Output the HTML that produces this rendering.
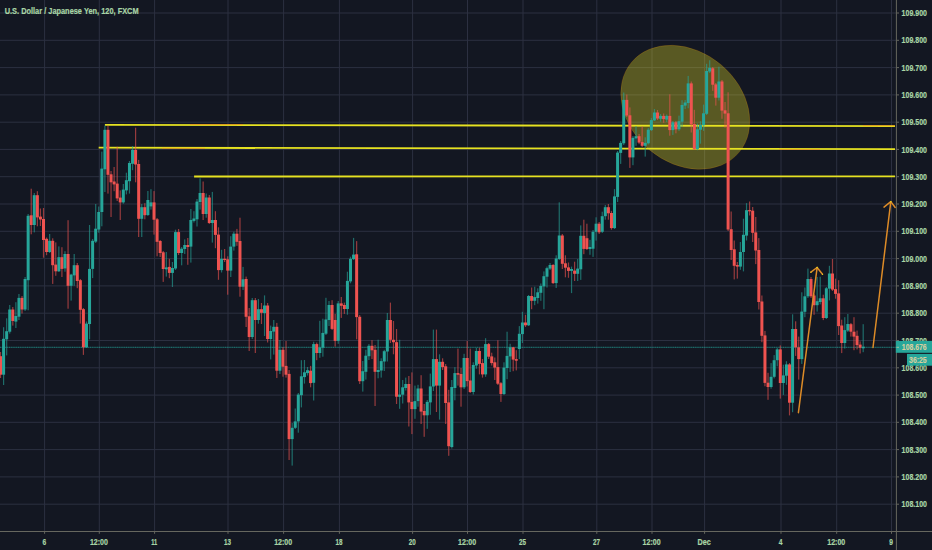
<!DOCTYPE html>
<html><head><meta charset="utf-8"><title>USDJPY</title>
<style>html,body{margin:0;padding:0;background:#131722;overflow:hidden}body{width:932px;height:550px;font-family:"Liberation Sans",sans-serif}</style>
</head><body>
<svg width="932" height="550" viewBox="0 0 932 550" style="display:block;font-family:'Liberation Sans',sans-serif">
<rect width="932" height="550" fill="#131722"/>
<g stroke="#2c3041" stroke-width="1">
<line x1="0" y1="13.0" x2="896.4" y2="13.0"/>
<line x1="0" y1="40.3" x2="896.4" y2="40.3"/>
<line x1="0" y1="67.6" x2="896.4" y2="67.6"/>
<line x1="0" y1="94.9" x2="896.4" y2="94.9"/>
<line x1="0" y1="122.2" x2="896.4" y2="122.2"/>
<line x1="0" y1="149.4" x2="896.4" y2="149.4"/>
<line x1="0" y1="176.7" x2="896.4" y2="176.7"/>
<line x1="0" y1="204.0" x2="896.4" y2="204.0"/>
<line x1="0" y1="231.3" x2="896.4" y2="231.3"/>
<line x1="0" y1="258.6" x2="896.4" y2="258.6"/>
<line x1="0" y1="285.9" x2="896.4" y2="285.9"/>
<line x1="0" y1="313.2" x2="896.4" y2="313.2"/>
<line x1="0" y1="340.5" x2="896.4" y2="340.5"/>
<line x1="0" y1="367.8" x2="896.4" y2="367.8"/>
<line x1="0" y1="395.1" x2="896.4" y2="395.1"/>
<line x1="0" y1="422.3" x2="896.4" y2="422.3"/>
<line x1="0" y1="449.6" x2="896.4" y2="449.6"/>
<line x1="0" y1="476.9" x2="896.4" y2="476.9"/>
<line x1="0" y1="504.2" x2="896.4" y2="504.2"/>
<line x1="44.6" y1="0" x2="44.6" y2="531.5"/>
<line x1="99.3" y1="0" x2="99.3" y2="531.5"/>
<line x1="154.6" y1="0" x2="154.6" y2="531.5"/>
<line x1="228.0" y1="0" x2="228.0" y2="531.5"/>
<line x1="283.6" y1="0" x2="283.6" y2="531.5"/>
<line x1="339.4" y1="0" x2="339.4" y2="531.5"/>
<line x1="412.6" y1="0" x2="412.6" y2="531.5"/>
<line x1="467.5" y1="0" x2="467.5" y2="531.5"/>
<line x1="523.0" y1="0" x2="523.0" y2="531.5"/>
<line x1="596.8" y1="0" x2="596.8" y2="531.5"/>
<line x1="652.0" y1="0" x2="652.0" y2="531.5"/>
<line x1="704.6" y1="0" x2="704.6" y2="531.5"/>
<line x1="781.0" y1="0" x2="781.0" y2="531.5"/>
<line x1="836.7" y1="0" x2="836.7" y2="531.5"/>
<line x1="891.5" y1="0" x2="891.5" y2="531.5"/>
</g>
<g transform="translate(685.3 107.3) rotate(40)"><ellipse rx="70.1" ry="55.6" fill="rgba(235,225,40,0.33)" stroke="rgba(255,152,0,0.25)" stroke-width="0.7"/></g>
<g stroke="#e6e221" stroke-width="1.8" stroke-linecap="butt">
<line x1="104.9" y1="124.9" x2="895" y2="126.1"/>
<line x1="98.7" y1="147.7" x2="895" y2="149.1"/>
<line x1="194.1" y1="176.5" x2="895" y2="176.3"/>
</g>
<g stroke="#f08c1e" stroke-width="0.9" opacity="0.7">
<line x1="190" y1="124.5" x2="243" y2="124.6"/><line x1="863" y1="125.6" x2="895" y2="125.7"/>
<line x1="162" y1="148.3" x2="205" y2="148.4"/><line x1="779" y1="149.4" x2="820" y2="149.5"/>
</g>
<line x1="0" y1="347.3" x2="896.4" y2="347.3" stroke="#26a69a" stroke-width="1" opacity="0.38"/>
<line x1="0" y1="347.3" x2="896.4" y2="347.3" stroke="#26a69a" stroke-width="1" stroke-dasharray="1 1.25" opacity="0.5"/>
<g opacity="0.6"><rect x="-0.08" y="352.0" width="1.2" height="26.0" fill="#ef5350"/><rect x="2.99" y="327.2" width="1.2" height="57.8" fill="#26a69a"/><rect x="6.06" y="318.3" width="1.2" height="37.1" fill="#26a69a"/><rect x="9.13" y="305.0" width="1.2" height="28.6" fill="#26a69a"/><rect x="12.20" y="307.0" width="1.2" height="18.6" fill="#ef5350"/><rect x="15.27" y="302.2" width="1.2" height="25.8" fill="#26a69a"/><rect x="18.34" y="294.0" width="1.2" height="26.0" fill="#26a69a"/><rect x="21.41" y="296.0" width="1.2" height="17.5" fill="#ef5350"/><rect x="24.48" y="277.0" width="1.2" height="34.0" fill="#26a69a"/><rect x="27.55" y="214.0" width="1.2" height="96.3" fill="#26a69a"/><rect x="30.62" y="188.7" width="1.2" height="45.6" fill="#ef5350"/><rect x="33.69" y="193.0" width="1.2" height="39.4" fill="#26a69a"/><rect x="36.76" y="191.2" width="1.2" height="35.1" fill="#ef5350"/><rect x="39.83" y="208.5" width="1.2" height="17.5" fill="#ef5350"/><rect x="42.90" y="208.0" width="1.2" height="49.7" fill="#ef5350"/><rect x="45.97" y="237.5" width="1.2" height="17.7" fill="#ef5350"/><rect x="49.04" y="234.0" width="1.2" height="19.0" fill="#26a69a"/><rect x="52.11" y="238.3" width="1.2" height="45.6" fill="#ef5350"/><rect x="55.18" y="242.4" width="1.2" height="33.4" fill="#ef5350"/><rect x="58.25" y="246.4" width="1.2" height="25.6" fill="#26a69a"/><rect x="61.32" y="247.2" width="1.2" height="29.8" fill="#ef5350"/><rect x="64.39" y="251.2" width="1.2" height="20.5" fill="#26a69a"/><rect x="67.46" y="220.2" width="1.2" height="88.5" fill="#ef5350"/><rect x="70.53" y="273.8" width="1.2" height="26.8" fill="#26a69a"/><rect x="73.60" y="254.0" width="1.2" height="31.8" fill="#26a69a"/><rect x="76.67" y="263.0" width="1.2" height="25.2" fill="#ef5350"/><rect x="79.74" y="279.0" width="1.2" height="44.6" fill="#ef5350"/><rect x="82.81" y="308.0" width="1.2" height="46.9" fill="#ef5350"/><rect x="85.88" y="321.5" width="1.2" height="26.5" fill="#26a69a"/><rect x="88.95" y="225.0" width="1.2" height="114.3" fill="#26a69a"/><rect x="92.02" y="239.0" width="1.2" height="39.1" fill="#26a69a"/><rect x="95.09" y="204.0" width="1.2" height="39.0" fill="#26a69a"/><rect x="98.16" y="206.5" width="1.2" height="26.2" fill="#26a69a"/><rect x="101.23" y="151.6" width="1.2" height="74.7" fill="#26a69a"/><rect x="104.30" y="125.7" width="1.2" height="66.3" fill="#26a69a"/><rect x="107.37" y="125.7" width="1.2" height="67.9" fill="#ef5350"/><rect x="110.44" y="171.0" width="1.2" height="46.0" fill="#ef5350"/><rect x="113.51" y="167.0" width="1.2" height="24.2" fill="#ef5350"/><rect x="116.58" y="146.7" width="1.2" height="54.3" fill="#ef5350"/><rect x="119.65" y="190.4" width="1.2" height="29.6" fill="#ef5350"/><rect x="122.72" y="184.0" width="1.2" height="19.7" fill="#26a69a"/><rect x="125.79" y="172.7" width="1.2" height="21.7" fill="#26a69a"/><rect x="128.86" y="161.0" width="1.2" height="32.6" fill="#26a69a"/><rect x="131.93" y="146.0" width="1.2" height="24.2" fill="#26a69a"/><rect x="135.00" y="127.7" width="1.2" height="54.6" fill="#ef5350"/><rect x="138.07" y="159.9" width="1.2" height="77.1" fill="#ef5350"/><rect x="141.14" y="204.0" width="1.2" height="33.0" fill="#26a69a"/><rect x="144.21" y="203.2" width="1.2" height="16.1" fill="#ef5350"/><rect x="147.28" y="191.0" width="1.2" height="25.0" fill="#26a69a"/><rect x="150.35" y="189.2" width="1.2" height="20.4" fill="#26a69a"/><rect x="153.42" y="191.1" width="1.2" height="43.5" fill="#ef5350"/><rect x="156.49" y="218.0" width="1.2" height="38.3" fill="#ef5350"/><rect x="159.56" y="240.0" width="1.2" height="17.0" fill="#ef5350"/><rect x="162.63" y="251.0" width="1.2" height="30.9" fill="#ef5350"/><rect x="165.70" y="252.0" width="1.2" height="24.6" fill="#26a69a"/><rect x="168.77" y="258.8" width="1.2" height="19.4" fill="#ef5350"/><rect x="171.84" y="262.0" width="1.2" height="25.0" fill="#26a69a"/><rect x="174.91" y="229.7" width="1.2" height="40.3" fill="#26a69a"/><rect x="177.98" y="229.0" width="1.2" height="26.0" fill="#ef5350"/><rect x="181.05" y="247.0" width="1.2" height="18.3" fill="#26a69a"/><rect x="184.12" y="239.4" width="1.2" height="14.6" fill="#26a69a"/><rect x="187.19" y="238.0" width="1.2" height="26.8" fill="#ef5350"/><rect x="190.26" y="209.0" width="1.2" height="53.6" fill="#26a69a"/><rect x="193.33" y="211.2" width="1.2" height="11.3" fill="#26a69a"/><rect x="196.40" y="199.0" width="1.2" height="27.5" fill="#26a69a"/><rect x="199.47" y="178.3" width="1.2" height="31.3" fill="#26a69a"/><rect x="202.54" y="181.5" width="1.2" height="38.5" fill="#ef5350"/><rect x="205.61" y="193.5" width="1.2" height="24.2" fill="#26a69a"/><rect x="208.68" y="195.0" width="1.2" height="29.0" fill="#ef5350"/><rect x="211.75" y="191.9" width="1.2" height="50.7" fill="#26a69a"/><rect x="214.82" y="211.2" width="1.2" height="37.0" fill="#ef5350"/><rect x="217.89" y="227.3" width="1.2" height="52.5" fill="#ef5350"/><rect x="220.96" y="249.8" width="1.2" height="22.7" fill="#26a69a"/><rect x="224.03" y="249.0" width="1.2" height="13.0" fill="#ef5350"/><rect x="227.10" y="256.3" width="1.2" height="38.4" fill="#ef5350"/><rect x="230.17" y="236.2" width="1.2" height="40.8" fill="#26a69a"/><rect x="233.24" y="231.7" width="1.2" height="18.9" fill="#26a69a"/><rect x="236.31" y="228.9" width="1.2" height="16.9" fill="#ef5350"/><rect x="239.38" y="217.7" width="1.2" height="79.0" fill="#ef5350"/><rect x="242.45" y="266.9" width="1.2" height="23.1" fill="#26a69a"/><rect x="245.52" y="276.6" width="1.2" height="50.4" fill="#ef5350"/><rect x="248.59" y="308.0" width="1.2" height="43.0" fill="#ef5350"/><rect x="251.66" y="298.0" width="1.2" height="41.0" fill="#26a69a"/><rect x="254.73" y="298.0" width="1.2" height="55.0" fill="#ef5350"/><rect x="257.80" y="299.0" width="1.2" height="24.7" fill="#26a69a"/><rect x="260.87" y="303.0" width="1.2" height="21.0" fill="#ef5350"/><rect x="263.94" y="295.4" width="1.2" height="40.6" fill="#26a69a"/><rect x="267.01" y="303.0" width="1.2" height="39.5" fill="#ef5350"/><rect x="270.08" y="325.6" width="1.2" height="33.8" fill="#26a69a"/><rect x="273.15" y="320.0" width="1.2" height="34.6" fill="#26a69a"/><rect x="276.22" y="322.9" width="1.2" height="55.1" fill="#ef5350"/><rect x="279.29" y="340.0" width="1.2" height="34.0" fill="#26a69a"/><rect x="282.36" y="347.0" width="1.2" height="29.7" fill="#ef5350"/><rect x="285.43" y="341.0" width="1.2" height="36.6" fill="#ef5350"/><rect x="288.50" y="370.0" width="1.2" height="90.0" fill="#ef5350"/><rect x="291.57" y="423.0" width="1.2" height="42.6" fill="#26a69a"/><rect x="294.64" y="408.5" width="1.2" height="20.5" fill="#26a69a"/><rect x="297.71" y="393.0" width="1.2" height="39.7" fill="#26a69a"/><rect x="300.78" y="360.2" width="1.2" height="47.2" fill="#26a69a"/><rect x="303.85" y="360.0" width="1.2" height="23.6" fill="#26a69a"/><rect x="306.92" y="367.0" width="1.2" height="8.5" fill="#26a69a"/><rect x="309.99" y="365.9" width="1.2" height="21.4" fill="#ef5350"/><rect x="313.06" y="341.7" width="1.2" height="58.8" fill="#26a69a"/><rect x="316.13" y="342.5" width="1.2" height="17.7" fill="#ef5350"/><rect x="319.20" y="320.8" width="1.2" height="37.0" fill="#26a69a"/><rect x="322.27" y="318.7" width="1.2" height="38.0" fill="#26a69a"/><rect x="325.34" y="297.8" width="1.2" height="37.2" fill="#26a69a"/><rect x="328.41" y="301.0" width="1.2" height="25.0" fill="#26a69a"/><rect x="331.48" y="300.2" width="1.2" height="29.8" fill="#ef5350"/><rect x="334.55" y="313.9" width="1.2" height="32.7" fill="#ef5350"/><rect x="337.62" y="301.0" width="1.2" height="42.8" fill="#26a69a"/><rect x="340.69" y="297.0" width="1.2" height="20.9" fill="#ef5350"/><rect x="343.76" y="302.6" width="1.2" height="11.3" fill="#ef5350"/><rect x="346.83" y="271.7" width="1.2" height="43.0" fill="#26a69a"/><rect x="349.90" y="256.7" width="1.2" height="26.6" fill="#26a69a"/><rect x="352.97" y="237.9" width="1.2" height="22.1" fill="#26a69a"/><rect x="356.04" y="241.1" width="1.2" height="98.2" fill="#ef5350"/><rect x="359.11" y="315.0" width="1.2" height="69.0" fill="#ef5350"/><rect x="362.18" y="361.0" width="1.2" height="30.6" fill="#26a69a"/><rect x="365.25" y="349.8" width="1.2" height="29.8" fill="#26a69a"/><rect x="368.32" y="344.1" width="1.2" height="15.9" fill="#26a69a"/><rect x="371.39" y="340.1" width="1.2" height="18.9" fill="#ef5350"/><rect x="374.46" y="345.0" width="1.2" height="61.0" fill="#ef5350"/><rect x="377.53" y="339.7" width="1.2" height="38.6" fill="#26a69a"/><rect x="380.60" y="358.3" width="1.2" height="19.3" fill="#26a69a"/><rect x="383.67" y="349.8" width="1.2" height="21.2" fill="#26a69a"/><rect x="386.74" y="313.0" width="1.2" height="48.5" fill="#26a69a"/><rect x="389.81" y="302.6" width="1.2" height="40.4" fill="#ef5350"/><rect x="392.88" y="321.0" width="1.2" height="33.3" fill="#ef5350"/><rect x="395.95" y="329.0" width="1.2" height="75.0" fill="#ef5350"/><rect x="399.02" y="339.8" width="1.2" height="69.0" fill="#26a69a"/><rect x="402.09" y="380.0" width="1.2" height="23.5" fill="#26a69a"/><rect x="405.16" y="377.6" width="1.2" height="12.9" fill="#26a69a"/><rect x="408.23" y="376.0" width="1.2" height="50.5" fill="#ef5350"/><rect x="411.30" y="372.4" width="1.2" height="61.7" fill="#ef5350"/><rect x="414.37" y="385.6" width="1.2" height="33.2" fill="#26a69a"/><rect x="417.44" y="384.8" width="1.2" height="21.9" fill="#26a69a"/><rect x="420.51" y="375.2" width="1.2" height="48.8" fill="#ef5350"/><rect x="423.58" y="404.0" width="1.2" height="32.8" fill="#ef5350"/><rect x="426.65" y="400.0" width="1.2" height="28.8" fill="#26a69a"/><rect x="429.72" y="373.6" width="1.2" height="41.2" fill="#26a69a"/><rect x="432.79" y="329.6" width="1.2" height="61.4" fill="#26a69a"/><rect x="435.86" y="329.6" width="1.2" height="82.4" fill="#ef5350"/><rect x="438.93" y="354.3" width="1.2" height="65.3" fill="#26a69a"/><rect x="442.00" y="358.3" width="1.2" height="11.7" fill="#ef5350"/><rect x="445.07" y="364.0" width="1.2" height="60.0" fill="#ef5350"/><rect x="448.14" y="389.8" width="1.2" height="66.0" fill="#ef5350"/><rect x="451.21" y="380.0" width="1.2" height="68.5" fill="#26a69a"/><rect x="454.28" y="367.1" width="1.2" height="33.2" fill="#26a69a"/><rect x="457.35" y="348.6" width="1.2" height="37.0" fill="#ef5350"/><rect x="460.42" y="368.0" width="1.2" height="38.7" fill="#ef5350"/><rect x="463.49" y="353.8" width="1.2" height="35.2" fill="#26a69a"/><rect x="466.56" y="340.9" width="1.2" height="45.6" fill="#ef5350"/><rect x="469.63" y="348.6" width="1.2" height="44.4" fill="#ef5350"/><rect x="472.70" y="362.3" width="1.2" height="32.2" fill="#26a69a"/><rect x="475.77" y="347.8" width="1.2" height="20.9" fill="#26a69a"/><rect x="478.84" y="347.8" width="1.2" height="26.6" fill="#ef5350"/><rect x="481.91" y="359.0" width="1.2" height="18.6" fill="#ef5350"/><rect x="484.98" y="338.2" width="1.2" height="38.6" fill="#26a69a"/><rect x="488.05" y="343.0" width="1.2" height="16.0" fill="#ef5350"/><rect x="491.12" y="352.7" width="1.2" height="12.8" fill="#ef5350"/><rect x="494.19" y="357.5" width="1.2" height="22.5" fill="#ef5350"/><rect x="497.26" y="340.3" width="1.2" height="44.7" fill="#ef5350"/><rect x="500.33" y="382.0" width="1.2" height="19.9" fill="#ef5350"/><rect x="503.40" y="362.3" width="1.2" height="32.7" fill="#26a69a"/><rect x="506.47" y="331.7" width="1.2" height="47.5" fill="#26a69a"/><rect x="509.54" y="343.8" width="1.2" height="28.2" fill="#26a69a"/><rect x="512.61" y="347.0" width="1.2" height="24.2" fill="#ef5350"/><rect x="515.68" y="350.2" width="1.2" height="20.2" fill="#ef5350"/><rect x="518.75" y="326.1" width="1.2" height="33.0" fill="#26a69a"/><rect x="521.82" y="311.8" width="1.2" height="31.2" fill="#26a69a"/><rect x="524.89" y="314.8" width="1.2" height="12.2" fill="#ef5350"/><rect x="527.96" y="295.0" width="1.2" height="31.0" fill="#26a69a"/><rect x="531.03" y="287.5" width="1.2" height="21.7" fill="#ef5350"/><rect x="534.10" y="286.7" width="1.2" height="18.5" fill="#26a69a"/><rect x="537.17" y="288.3" width="1.2" height="15.3" fill="#26a69a"/><rect x="540.24" y="283.5" width="1.2" height="17.3" fill="#26a69a"/><rect x="543.31" y="271.4" width="1.2" height="37.8" fill="#26a69a"/><rect x="546.38" y="266.6" width="1.2" height="20.9" fill="#26a69a"/><rect x="549.45" y="263.0" width="1.2" height="7.0" fill="#26a69a"/><rect x="552.52" y="264.0" width="1.2" height="20.0" fill="#ef5350"/><rect x="555.59" y="255.3" width="1.2" height="32.7" fill="#26a69a"/><rect x="558.66" y="202.3" width="1.2" height="57.7" fill="#26a69a"/><rect x="561.73" y="234.0" width="1.2" height="35.0" fill="#ef5350"/><rect x="564.80" y="255.3" width="1.2" height="22.0" fill="#ef5350"/><rect x="567.87" y="262.5" width="1.2" height="15.3" fill="#ef5350"/><rect x="570.94" y="266.6" width="1.2" height="26.5" fill="#26a69a"/><rect x="574.01" y="261.7" width="1.2" height="19.3" fill="#ef5350"/><rect x="577.08" y="259.0" width="1.2" height="22.0" fill="#26a69a"/><rect x="580.15" y="225.4" width="1.2" height="54.5" fill="#26a69a"/><rect x="583.22" y="219.7" width="1.2" height="34.5" fill="#ef5350"/><rect x="586.29" y="223.7" width="1.2" height="26.3" fill="#ef5350"/><rect x="589.36" y="239.8" width="1.2" height="15.0" fill="#26a69a"/><rect x="592.43" y="230.0" width="1.2" height="26.9" fill="#26a69a"/><rect x="595.50" y="217.3" width="1.2" height="23.3" fill="#26a69a"/><rect x="598.57" y="222.0" width="1.2" height="12.0" fill="#ef5350"/><rect x="601.64" y="211.7" width="1.2" height="21.3" fill="#26a69a"/><rect x="604.71" y="205.0" width="1.2" height="14.7" fill="#26a69a"/><rect x="607.78" y="204.0" width="1.2" height="15.7" fill="#ef5350"/><rect x="610.85" y="210.9" width="1.2" height="18.8" fill="#ef5350"/><rect x="613.92" y="189.1" width="1.2" height="39.9" fill="#26a69a"/><rect x="616.99" y="151.0" width="1.2" height="51.0" fill="#26a69a"/><rect x="620.06" y="141.0" width="1.2" height="22.9" fill="#26a69a"/><rect x="623.13" y="92.5" width="1.2" height="52.5" fill="#26a69a"/><rect x="626.20" y="94.5" width="1.2" height="22.5" fill="#ef5350"/><rect x="629.27" y="107.4" width="1.2" height="60.5" fill="#ef5350"/><rect x="632.34" y="136.0" width="1.2" height="29.2" fill="#26a69a"/><rect x="635.41" y="126.0" width="1.2" height="19.8" fill="#26a69a"/><rect x="638.48" y="134.0" width="1.2" height="10.2" fill="#ef5350"/><rect x="641.55" y="126.5" width="1.2" height="20.5" fill="#ef5350"/><rect x="644.62" y="137.3" width="1.2" height="19.3" fill="#26a69a"/><rect x="647.69" y="128.0" width="1.2" height="16.5" fill="#26a69a"/><rect x="650.76" y="118.0" width="1.2" height="13.0" fill="#26a69a"/><rect x="653.83" y="109.0" width="1.2" height="12.0" fill="#26a69a"/><rect x="656.90" y="110.0" width="1.2" height="10.0" fill="#ef5350"/><rect x="659.97" y="114.0" width="1.2" height="7.7" fill="#26a69a"/><rect x="663.04" y="113.5" width="1.2" height="9.3" fill="#ef5350"/><rect x="666.11" y="114.5" width="1.2" height="7.5" fill="#26a69a"/><rect x="669.18" y="94.3" width="1.2" height="41.4" fill="#ef5350"/><rect x="672.25" y="121.0" width="1.2" height="13.9" fill="#26a69a"/><rect x="675.32" y="121.0" width="1.2" height="12.3" fill="#ef5350"/><rect x="678.39" y="115.6" width="1.2" height="15.3" fill="#26a69a"/><rect x="681.46" y="100.2" width="1.2" height="26.6" fill="#26a69a"/><rect x="684.53" y="100.0" width="1.2" height="9.1" fill="#26a69a"/><rect x="687.60" y="75.9" width="1.2" height="32.4" fill="#26a69a"/><rect x="690.67" y="81.5" width="1.2" height="51.0" fill="#ef5350"/><rect x="693.74" y="109.8" width="1.2" height="40.2" fill="#ef5350"/><rect x="696.81" y="123.6" width="1.2" height="26.6" fill="#26a69a"/><rect x="699.88" y="121.2" width="1.2" height="22.5" fill="#26a69a"/><rect x="702.95" y="104.6" width="1.2" height="26.3" fill="#26a69a"/><rect x="706.02" y="63.8" width="1.2" height="51.2" fill="#26a69a"/><rect x="709.09" y="60.3" width="1.2" height="12.7" fill="#26a69a"/><rect x="712.16" y="67.0" width="1.2" height="23.8" fill="#ef5350"/><rect x="715.23" y="83.0" width="1.2" height="22.6" fill="#ef5350"/><rect x="718.30" y="66.7" width="1.2" height="33.8" fill="#26a69a"/><rect x="721.37" y="80.0" width="1.2" height="38.8" fill="#ef5350"/><rect x="724.44" y="102.0" width="1.2" height="25.7" fill="#ef5350"/><rect x="727.51" y="92.3" width="1.2" height="138.7" fill="#ef5350"/><rect x="730.58" y="211.5" width="1.2" height="48.5" fill="#ef5350"/><rect x="733.65" y="240.5" width="1.2" height="38.9" fill="#ef5350"/><rect x="736.72" y="262.0" width="1.2" height="16.6" fill="#ef5350"/><rect x="739.79" y="242.0" width="1.2" height="27.8" fill="#26a69a"/><rect x="742.86" y="218.7" width="1.2" height="52.7" fill="#26a69a"/><rect x="745.93" y="203.1" width="1.2" height="37.4" fill="#26a69a"/><rect x="749.00" y="201.5" width="1.2" height="14.0" fill="#ef5350"/><rect x="752.07" y="207.0" width="1.2" height="35.0" fill="#ef5350"/><rect x="755.14" y="217.0" width="1.2" height="47.1" fill="#ef5350"/><rect x="758.21" y="238.1" width="1.2" height="71.4" fill="#ef5350"/><rect x="761.28" y="295.5" width="1.2" height="46.7" fill="#ef5350"/><rect x="764.35" y="330.9" width="1.2" height="55.4" fill="#ef5350"/><rect x="767.42" y="372.8" width="1.2" height="27.0" fill="#ef5350"/><rect x="770.49" y="363.1" width="1.2" height="25.6" fill="#26a69a"/><rect x="773.56" y="355.1" width="1.2" height="23.3" fill="#26a69a"/><rect x="776.63" y="348.0" width="1.2" height="18.3" fill="#26a69a"/><rect x="779.70" y="345.4" width="1.2" height="53.2" fill="#ef5350"/><rect x="782.77" y="364.7" width="1.2" height="30.2" fill="#26a69a"/><rect x="785.84" y="361.2" width="1.2" height="23.6" fill="#26a69a"/><rect x="788.91" y="363.0" width="1.2" height="52.4" fill="#ef5350"/><rect x="791.98" y="314.3" width="1.2" height="97.9" fill="#26a69a"/><rect x="795.05" y="321.3" width="1.2" height="34.6" fill="#ef5350"/><rect x="798.12" y="336.6" width="1.2" height="43.0" fill="#ef5350"/><rect x="801.19" y="292.3" width="1.2" height="71.6" fill="#26a69a"/><rect x="804.26" y="287.5" width="1.2" height="29.7" fill="#26a69a"/><rect x="807.33" y="268.6" width="1.2" height="29.4" fill="#26a69a"/><rect x="810.40" y="277.0" width="1.2" height="21.0" fill="#ef5350"/><rect x="813.47" y="294.0" width="1.2" height="20.8" fill="#ef5350"/><rect x="816.54" y="277.0" width="1.2" height="34.6" fill="#26a69a"/><rect x="819.61" y="276.7" width="1.2" height="27.7" fill="#26a69a"/><rect x="822.68" y="294.7" width="1.2" height="25.4" fill="#ef5350"/><rect x="825.75" y="287.0" width="1.2" height="32.0" fill="#26a69a"/><rect x="828.82" y="265.8" width="1.2" height="34.6" fill="#26a69a"/><rect x="831.89" y="259.0" width="1.2" height="32.0" fill="#ef5350"/><rect x="834.96" y="278.6" width="1.2" height="20.1" fill="#ef5350"/><rect x="838.03" y="280.2" width="1.2" height="54.8" fill="#ef5350"/><rect x="841.10" y="319.7" width="1.2" height="33.4" fill="#ef5350"/><rect x="844.17" y="317.2" width="1.2" height="31.4" fill="#26a69a"/><rect x="847.24" y="314.0" width="1.2" height="18.0" fill="#26a69a"/><rect x="850.31" y="323.0" width="1.2" height="13.6" fill="#ef5350"/><rect x="853.38" y="317.2" width="1.2" height="33.0" fill="#ef5350"/><rect x="856.45" y="330.6" width="1.2" height="18.8" fill="#ef5350"/><rect x="859.52" y="341.4" width="1.2" height="12.1" fill="#ef5350"/><rect x="862.59" y="324.2" width="1.2" height="28.0" fill="#26a69a"/></g>
<g><rect x="-0.98" y="356.2" width="3" height="18.5" fill="#ef5350"/><rect x="2.09" y="338.8" width="3" height="35.9" fill="#26a69a"/><rect x="5.16" y="331.2" width="3" height="8.1" fill="#26a69a"/><rect x="8.23" y="309.5" width="3" height="22.2" fill="#26a69a"/><rect x="11.30" y="309.5" width="3" height="11.5" fill="#ef5350"/><rect x="14.37" y="316.0" width="3" height="5.6" fill="#26a69a"/><rect x="17.44" y="297.9" width="3" height="18.8" fill="#26a69a"/><rect x="20.51" y="297.9" width="3" height="11.6" fill="#ef5350"/><rect x="23.58" y="279.0" width="3" height="30.5" fill="#26a69a"/><rect x="26.65" y="215.8" width="3" height="64.4" fill="#26a69a"/><rect x="29.72" y="215.3" width="3" height="9.7" fill="#ef5350"/><rect x="32.79" y="195.2" width="3" height="29.8" fill="#26a69a"/><rect x="35.86" y="195.2" width="3" height="22.2" fill="#ef5350"/><rect x="38.93" y="216.6" width="3" height="2.9" fill="#ef5350"/><rect x="42.00" y="219.0" width="3" height="21.0" fill="#ef5350"/><rect x="45.07" y="238.8" width="3" height="13.2" fill="#ef5350"/><rect x="48.14" y="240.8" width="3" height="11.2" fill="#26a69a"/><rect x="51.21" y="240.8" width="3" height="24.4" fill="#ef5350"/><rect x="54.28" y="264.6" width="3" height="6.7" fill="#ef5350"/><rect x="57.35" y="257.2" width="3" height="14.1" fill="#26a69a"/><rect x="60.42" y="257.2" width="3" height="11.7" fill="#ef5350"/><rect x="63.49" y="254.0" width="3" height="14.4" fill="#26a69a"/><rect x="66.56" y="254.0" width="3" height="31.8" fill="#ef5350"/><rect x="69.63" y="274.6" width="3" height="11.2" fill="#26a69a"/><rect x="72.70" y="265.2" width="3" height="10.2" fill="#26a69a"/><rect x="75.77" y="265.2" width="3" height="15.8" fill="#ef5350"/><rect x="78.84" y="280.2" width="3" height="29.6" fill="#ef5350"/><rect x="81.91" y="309.2" width="3" height="38.1" fill="#ef5350"/><rect x="84.98" y="323.6" width="3" height="23.7" fill="#26a69a"/><rect x="88.05" y="268.9" width="3" height="55.1" fill="#26a69a"/><rect x="91.12" y="240.8" width="3" height="28.1" fill="#26a69a"/><rect x="94.19" y="228.7" width="3" height="12.9" fill="#26a69a"/><rect x="97.26" y="212.0" width="3" height="17.5" fill="#26a69a"/><rect x="100.33" y="168.6" width="3" height="43.4" fill="#26a69a"/><rect x="103.40" y="129.8" width="3" height="39.5" fill="#26a69a"/><rect x="106.47" y="129.8" width="3" height="45.0" fill="#ef5350"/><rect x="109.54" y="174.3" width="3" height="8.0" fill="#ef5350"/><rect x="112.61" y="181.5" width="3" height="2.9" fill="#ef5350"/><rect x="115.68" y="183.6" width="3" height="14.8" fill="#ef5350"/><rect x="118.75" y="197.6" width="3" height="4.8" fill="#ef5350"/><rect x="121.82" y="189.6" width="3" height="12.8" fill="#26a69a"/><rect x="124.89" y="180.2" width="3" height="10.2" fill="#26a69a"/><rect x="127.96" y="163.0" width="3" height="18.2" fill="#26a69a"/><rect x="131.03" y="149.9" width="3" height="13.9" fill="#26a69a"/><rect x="134.10" y="149.9" width="3" height="14.6" fill="#ef5350"/><rect x="137.17" y="164.0" width="3" height="54.8" fill="#ef5350"/><rect x="140.24" y="207.2" width="3" height="11.6" fill="#26a69a"/><rect x="143.31" y="207.2" width="3" height="8.0" fill="#ef5350"/><rect x="146.38" y="200.0" width="3" height="15.0" fill="#26a69a"/><rect x="149.45" y="202.4" width="3" height="4.0" fill="#26a69a"/><rect x="152.52" y="202.4" width="3" height="17.3" fill="#ef5350"/><rect x="155.59" y="219.3" width="3" height="22.5" fill="#ef5350"/><rect x="158.66" y="241.0" width="3" height="12.0" fill="#ef5350"/><rect x="161.73" y="252.3" width="3" height="16.7" fill="#ef5350"/><rect x="164.80" y="267.4" width="3" height="1.9" fill="#26a69a"/><rect x="167.87" y="266.9" width="3" height="6.0" fill="#ef5350"/><rect x="170.94" y="268.0" width="3" height="4.9" fill="#26a69a"/><rect x="174.01" y="232.1" width="3" height="36.4" fill="#26a69a"/><rect x="177.08" y="232.1" width="3" height="20.9" fill="#ef5350"/><rect x="180.15" y="248.7" width="3" height="4.3" fill="#26a69a"/><rect x="183.22" y="245.0" width="3" height="4.0" fill="#26a69a"/><rect x="186.29" y="245.0" width="3" height="2.0" fill="#ef5350"/><rect x="189.36" y="220.0" width="3" height="26.6" fill="#26a69a"/><rect x="192.43" y="218.5" width="3" height="2.4" fill="#26a69a"/><rect x="195.50" y="201.6" width="3" height="17.7" fill="#26a69a"/><rect x="198.57" y="193.0" width="3" height="9.0" fill="#26a69a"/><rect x="201.64" y="193.0" width="3" height="21.0" fill="#ef5350"/><rect x="204.71" y="197.5" width="3" height="16.5" fill="#26a69a"/><rect x="207.78" y="197.5" width="3" height="25.5" fill="#ef5350"/><rect x="210.85" y="220.0" width="3" height="3.0" fill="#26a69a"/><rect x="213.92" y="220.0" width="3" height="14.9" fill="#ef5350"/><rect x="216.99" y="234.6" width="3" height="35.5" fill="#ef5350"/><rect x="220.06" y="258.8" width="3" height="11.3" fill="#26a69a"/><rect x="223.13" y="258.8" width="3" height="1.2" fill="#ef5350"/><rect x="226.20" y="259.3" width="3" height="11.3" fill="#ef5350"/><rect x="229.27" y="246.6" width="3" height="24.0" fill="#26a69a"/><rect x="232.34" y="233.7" width="3" height="12.9" fill="#26a69a"/><rect x="235.41" y="233.7" width="3" height="8.1" fill="#ef5350"/><rect x="238.48" y="241.0" width="3" height="45.7" fill="#ef5350"/><rect x="241.55" y="279.3" width="3" height="7.4" fill="#26a69a"/><rect x="244.62" y="279.0" width="3" height="37.8" fill="#ef5350"/><rect x="247.69" y="316.3" width="3" height="20.7" fill="#ef5350"/><rect x="250.76" y="300.2" width="3" height="36.8" fill="#26a69a"/><rect x="253.83" y="300.2" width="3" height="19.8" fill="#ef5350"/><rect x="256.90" y="309.2" width="3" height="10.8" fill="#26a69a"/><rect x="259.97" y="309.2" width="3" height="3.6" fill="#ef5350"/><rect x="263.04" y="305.5" width="3" height="7.6" fill="#26a69a"/><rect x="266.11" y="305.5" width="3" height="33.5" fill="#ef5350"/><rect x="269.18" y="331.0" width="3" height="8.0" fill="#26a69a"/><rect x="272.25" y="326.8" width="3" height="4.8" fill="#26a69a"/><rect x="275.32" y="326.8" width="3" height="43.9" fill="#ef5350"/><rect x="278.39" y="349.8" width="3" height="20.9" fill="#26a69a"/><rect x="281.46" y="349.8" width="3" height="16.9" fill="#ef5350"/><rect x="284.53" y="365.9" width="3" height="8.8" fill="#ef5350"/><rect x="287.60" y="373.9" width="3" height="65.2" fill="#ef5350"/><rect x="290.67" y="427.8" width="3" height="11.3" fill="#26a69a"/><rect x="293.74" y="421.4" width="3" height="6.4" fill="#26a69a"/><rect x="296.81" y="394.6" width="3" height="26.8" fill="#26a69a"/><rect x="299.88" y="376.3" width="3" height="18.9" fill="#26a69a"/><rect x="302.95" y="372.3" width="3" height="4.8" fill="#26a69a"/><rect x="306.02" y="370.2" width="3" height="2.9" fill="#26a69a"/><rect x="309.09" y="370.7" width="3" height="12.4" fill="#ef5350"/><rect x="312.16" y="344.1" width="3" height="38.7" fill="#26a69a"/><rect x="315.23" y="344.1" width="3" height="8.9" fill="#ef5350"/><rect x="318.30" y="347.4" width="3" height="5.6" fill="#26a69a"/><rect x="321.37" y="332.9" width="3" height="14.8" fill="#26a69a"/><rect x="324.44" y="319.5" width="3" height="14.2" fill="#26a69a"/><rect x="327.51" y="305.0" width="3" height="15.0" fill="#26a69a"/><rect x="330.58" y="305.0" width="3" height="23.9" fill="#ef5350"/><rect x="333.65" y="320.0" width="3" height="20.9" fill="#ef5350"/><rect x="336.72" y="303.4" width="3" height="37.5" fill="#26a69a"/><rect x="339.79" y="303.4" width="3" height="2.4" fill="#ef5350"/><rect x="342.86" y="305.0" width="3" height="4.0" fill="#ef5350"/><rect x="345.93" y="280.9" width="3" height="28.1" fill="#26a69a"/><rect x="349.00" y="258.8" width="3" height="22.6" fill="#26a69a"/><rect x="352.07" y="254.6" width="3" height="4.5" fill="#26a69a"/><rect x="355.14" y="254.3" width="3" height="62.8" fill="#ef5350"/><rect x="358.21" y="316.8" width="3" height="64.4" fill="#ef5350"/><rect x="361.28" y="371.2" width="3" height="10.0" fill="#26a69a"/><rect x="364.35" y="355.7" width="3" height="16.1" fill="#26a69a"/><rect x="367.42" y="345.8" width="3" height="10.4" fill="#26a69a"/><rect x="370.49" y="345.8" width="3" height="4.5" fill="#ef5350"/><rect x="373.56" y="349.8" width="3" height="22.0" fill="#ef5350"/><rect x="376.63" y="370.0" width="3" height="2.0" fill="#26a69a"/><rect x="379.70" y="361.1" width="3" height="9.4" fill="#26a69a"/><rect x="382.77" y="351.2" width="3" height="10.3" fill="#26a69a"/><rect x="385.84" y="320.0" width="3" height="31.5" fill="#26a69a"/><rect x="388.91" y="320.0" width="3" height="19.8" fill="#ef5350"/><rect x="391.98" y="339.8" width="3" height="2.4" fill="#ef5350"/><rect x="395.05" y="342.2" width="3" height="54.5" fill="#ef5350"/><rect x="398.12" y="394.6" width="3" height="2.2" fill="#26a69a"/><rect x="401.19" y="387.3" width="3" height="7.4" fill="#26a69a"/><rect x="404.26" y="384.0" width="3" height="4.0" fill="#26a69a"/><rect x="407.33" y="384.0" width="3" height="18.4" fill="#ef5350"/><rect x="410.40" y="401.9" width="3" height="7.2" fill="#ef5350"/><rect x="413.47" y="401.1" width="3" height="8.0" fill="#26a69a"/><rect x="416.54" y="388.5" width="3" height="12.6" fill="#26a69a"/><rect x="419.61" y="388.5" width="3" height="23.1" fill="#ef5350"/><rect x="422.68" y="411.0" width="3" height="4.3" fill="#ef5350"/><rect x="425.75" y="401.9" width="3" height="13.4" fill="#26a69a"/><rect x="428.82" y="386.4" width="3" height="16.0" fill="#26a69a"/><rect x="431.89" y="359.1" width="3" height="27.4" fill="#26a69a"/><rect x="434.96" y="359.1" width="3" height="26.5" fill="#ef5350"/><rect x="438.03" y="361.8" width="3" height="23.8" fill="#26a69a"/><rect x="441.10" y="361.8" width="3" height="5.3" fill="#ef5350"/><rect x="444.17" y="366.3" width="3" height="36.7" fill="#ef5350"/><rect x="447.24" y="402.4" width="3" height="43.8" fill="#ef5350"/><rect x="450.31" y="387.0" width="3" height="60.0" fill="#26a69a"/><rect x="453.38" y="373.1" width="3" height="14.9" fill="#26a69a"/><rect x="456.45" y="373.1" width="3" height="1.6" fill="#ef5350"/><rect x="459.52" y="374.0" width="3" height="13.3" fill="#ef5350"/><rect x="462.59" y="358.0" width="3" height="29.3" fill="#26a69a"/><rect x="465.66" y="358.0" width="3" height="23.1" fill="#ef5350"/><rect x="468.73" y="380.5" width="3" height="11.5" fill="#ef5350"/><rect x="471.80" y="365.0" width="3" height="27.0" fill="#26a69a"/><rect x="474.87" y="351.0" width="3" height="14.5" fill="#26a69a"/><rect x="477.94" y="351.0" width="3" height="12.9" fill="#ef5350"/><rect x="481.01" y="363.1" width="3" height="11.3" fill="#ef5350"/><rect x="484.08" y="344.1" width="3" height="30.3" fill="#26a69a"/><rect x="487.15" y="344.1" width="3" height="12.6" fill="#ef5350"/><rect x="490.22" y="356.4" width="3" height="6.7" fill="#ef5350"/><rect x="493.29" y="362.3" width="3" height="5.3" fill="#ef5350"/><rect x="496.36" y="367.1" width="3" height="16.6" fill="#ef5350"/><rect x="499.43" y="383.2" width="3" height="10.8" fill="#ef5350"/><rect x="502.50" y="367.6" width="3" height="26.4" fill="#26a69a"/><rect x="505.57" y="355.9" width="3" height="12.1" fill="#26a69a"/><rect x="508.64" y="347.3" width="3" height="9.1" fill="#26a69a"/><rect x="511.71" y="347.3" width="3" height="12.3" fill="#ef5350"/><rect x="514.78" y="359.1" width="3" height="1.6" fill="#ef5350"/><rect x="517.85" y="333.8" width="3" height="15.2" fill="#26a69a"/><rect x="520.92" y="322.5" width="3" height="11.6" fill="#26a69a"/><rect x="523.99" y="322.5" width="3" height="2.8" fill="#ef5350"/><rect x="527.06" y="296.0" width="3" height="29.3" fill="#26a69a"/><rect x="530.13" y="296.0" width="3" height="4.8" fill="#ef5350"/><rect x="533.20" y="297.1" width="3" height="3.7" fill="#26a69a"/><rect x="536.27" y="292.3" width="3" height="5.7" fill="#26a69a"/><rect x="539.34" y="285.9" width="3" height="6.9" fill="#26a69a"/><rect x="542.41" y="276.2" width="3" height="10.2" fill="#26a69a"/><rect x="545.48" y="268.2" width="3" height="8.5" fill="#26a69a"/><rect x="548.55" y="265.0" width="3" height="3.6" fill="#26a69a"/><rect x="551.62" y="265.0" width="3" height="18.1" fill="#ef5350"/><rect x="554.69" y="258.5" width="3" height="24.6" fill="#26a69a"/><rect x="557.76" y="235.5" width="3" height="23.5" fill="#26a69a"/><rect x="560.83" y="235.5" width="3" height="28.3" fill="#ef5350"/><rect x="563.90" y="263.3" width="3" height="4.4" fill="#ef5350"/><rect x="566.97" y="267.4" width="3" height="3.5" fill="#ef5350"/><rect x="570.04" y="269.0" width="3" height="1.9" fill="#26a69a"/><rect x="573.11" y="270.6" width="3" height="3.2" fill="#ef5350"/><rect x="576.18" y="268.6" width="3" height="5.2" fill="#26a69a"/><rect x="579.25" y="235.8" width="3" height="33.5" fill="#26a69a"/><rect x="582.32" y="235.8" width="3" height="13.1" fill="#ef5350"/><rect x="585.39" y="238.2" width="3" height="10.8" fill="#ef5350"/><rect x="588.46" y="247.0" width="3" height="2.0" fill="#26a69a"/><rect x="591.53" y="231.8" width="3" height="16.9" fill="#26a69a"/><rect x="594.60" y="223.7" width="3" height="8.1" fill="#26a69a"/><rect x="597.67" y="223.7" width="3" height="8.6" fill="#ef5350"/><rect x="600.74" y="216.2" width="3" height="15.6" fill="#26a69a"/><rect x="603.81" y="207.2" width="3" height="9.0" fill="#26a69a"/><rect x="606.88" y="207.2" width="3" height="6.1" fill="#ef5350"/><rect x="609.95" y="213.0" width="3" height="15.1" fill="#ef5350"/><rect x="613.02" y="196.4" width="3" height="31.7" fill="#26a69a"/><rect x="616.09" y="152.6" width="3" height="44.3" fill="#26a69a"/><rect x="619.16" y="142.9" width="3" height="10.0" fill="#26a69a"/><rect x="622.23" y="99.9" width="3" height="43.4" fill="#26a69a"/><rect x="625.30" y="99.9" width="3" height="15.6" fill="#ef5350"/><rect x="628.37" y="115.3" width="3" height="42.1" fill="#ef5350"/><rect x="631.44" y="137.8" width="3" height="19.6" fill="#26a69a"/><rect x="634.51" y="136.2" width="3" height="2.2" fill="#26a69a"/><rect x="637.58" y="136.2" width="3" height="6.4" fill="#ef5350"/><rect x="640.65" y="142.1" width="3" height="3.7" fill="#ef5350"/><rect x="643.72" y="142.9" width="3" height="2.9" fill="#26a69a"/><rect x="646.79" y="129.7" width="3" height="13.6" fill="#26a69a"/><rect x="649.86" y="120.1" width="3" height="10.0" fill="#26a69a"/><rect x="652.93" y="112.5" width="3" height="7.9" fill="#26a69a"/><rect x="656.00" y="112.5" width="3" height="6.0" fill="#ef5350"/><rect x="659.07" y="115.9" width="3" height="2.9" fill="#26a69a"/><rect x="662.14" y="115.9" width="3" height="3.2" fill="#ef5350"/><rect x="665.21" y="115.9" width="3" height="3.7" fill="#26a69a"/><rect x="668.28" y="115.9" width="3" height="14.2" fill="#ef5350"/><rect x="671.35" y="122.3" width="3" height="7.8" fill="#26a69a"/><rect x="674.42" y="122.3" width="3" height="7.0" fill="#ef5350"/><rect x="677.49" y="121.2" width="3" height="8.1" fill="#26a69a"/><rect x="680.56" y="105.0" width="3" height="16.7" fill="#26a69a"/><rect x="683.63" y="102.5" width="3" height="3.1" fill="#26a69a"/><rect x="686.70" y="83.4" width="3" height="19.6" fill="#26a69a"/><rect x="689.77" y="83.4" width="3" height="41.0" fill="#ef5350"/><rect x="692.84" y="124.0" width="3" height="25.1" fill="#ef5350"/><rect x="695.91" y="129.3" width="3" height="19.8" fill="#26a69a"/><rect x="698.98" y="124.9" width="3" height="4.8" fill="#26a69a"/><rect x="702.05" y="113.3" width="3" height="11.9" fill="#26a69a"/><rect x="705.12" y="71.0" width="3" height="42.8" fill="#26a69a"/><rect x="708.19" y="67.8" width="3" height="3.7" fill="#26a69a"/><rect x="711.26" y="68.3" width="3" height="16.4" fill="#ef5350"/><rect x="714.33" y="84.4" width="3" height="13.3" fill="#ef5350"/><rect x="717.40" y="81.5" width="3" height="16.2" fill="#26a69a"/><rect x="720.47" y="81.5" width="3" height="29.1" fill="#ef5350"/><rect x="723.54" y="110.3" width="3" height="3.3" fill="#ef5350"/><rect x="726.61" y="113.3" width="3" height="116.2" fill="#ef5350"/><rect x="729.68" y="229.2" width="3" height="20.8" fill="#ef5350"/><rect x="732.75" y="249.3" width="3" height="16.5" fill="#ef5350"/><rect x="735.82" y="265.0" width="3" height="1.6" fill="#ef5350"/><rect x="738.89" y="252.0" width="3" height="14.6" fill="#26a69a"/><rect x="741.96" y="234.8" width="3" height="17.2" fill="#26a69a"/><rect x="745.03" y="210.2" width="3" height="25.4" fill="#26a69a"/><rect x="748.10" y="210.1" width="3" height="1.2" fill="#ef5350"/><rect x="751.17" y="210.7" width="3" height="22.1" fill="#ef5350"/><rect x="754.24" y="232.4" width="3" height="18.1" fill="#ef5350"/><rect x="757.31" y="250.0" width="3" height="52.0" fill="#ef5350"/><rect x="760.38" y="301.5" width="3" height="34.3" fill="#ef5350"/><rect x="763.45" y="335.4" width="3" height="47.5" fill="#ef5350"/><rect x="766.52" y="382.7" width="3" height="4.3" fill="#ef5350"/><rect x="769.59" y="376.8" width="3" height="10.2" fill="#26a69a"/><rect x="772.66" y="360.2" width="3" height="16.6" fill="#26a69a"/><rect x="775.73" y="349.4" width="3" height="10.8" fill="#26a69a"/><rect x="778.80" y="349.4" width="3" height="33.6" fill="#ef5350"/><rect x="781.87" y="375.4" width="3" height="7.6" fill="#26a69a"/><rect x="784.94" y="364.4" width="3" height="11.3" fill="#26a69a"/><rect x="788.01" y="364.4" width="3" height="38.3" fill="#ef5350"/><rect x="791.08" y="329.0" width="3" height="73.7" fill="#26a69a"/><rect x="794.15" y="329.0" width="3" height="18.3" fill="#ef5350"/><rect x="797.22" y="347.3" width="3" height="11.8" fill="#ef5350"/><rect x="800.29" y="311.6" width="3" height="47.5" fill="#26a69a"/><rect x="803.36" y="296.3" width="3" height="15.5" fill="#26a69a"/><rect x="806.43" y="279.0" width="3" height="17.3" fill="#26a69a"/><rect x="809.50" y="279.0" width="3" height="17.3" fill="#ef5350"/><rect x="812.57" y="295.5" width="3" height="9.7" fill="#ef5350"/><rect x="815.64" y="301.2" width="3" height="4.0" fill="#26a69a"/><rect x="818.71" y="298.3" width="3" height="3.7" fill="#26a69a"/><rect x="821.78" y="298.3" width="3" height="19.7" fill="#ef5350"/><rect x="824.85" y="288.3" width="3" height="29.7" fill="#26a69a"/><rect x="827.92" y="273.5" width="3" height="15.1" fill="#26a69a"/><rect x="830.99" y="273.5" width="3" height="16.1" fill="#ef5350"/><rect x="834.06" y="289.1" width="3" height="4.8" fill="#ef5350"/><rect x="837.13" y="293.4" width="3" height="32.7" fill="#ef5350"/><rect x="840.20" y="325.5" width="3" height="17.5" fill="#ef5350"/><rect x="843.27" y="330.1" width="3" height="12.9" fill="#26a69a"/><rect x="846.34" y="324.0" width="3" height="6.6" fill="#26a69a"/><rect x="849.41" y="324.2" width="3" height="7.5" fill="#ef5350"/><rect x="852.48" y="331.7" width="3" height="4.9" fill="#ef5350"/><rect x="855.55" y="335.8" width="3" height="9.3" fill="#ef5350"/><rect x="858.62" y="344.6" width="3" height="3.2" fill="#ef5350"/><rect x="861.69" y="346.7" width="3" height="1.6" fill="#26a69a"/></g>
<g stroke="#dd8b27" stroke-width="1.5" fill="none" stroke-linecap="round" stroke-linejoin="round">
<line x1="798.4" y1="412.7" x2="817.1" y2="267.6"/><polyline points="810.9,272.2 817.1,267.5 822.5,274.3"/>
<line x1="873" y1="347.5" x2="890.8" y2="201.7"/><polyline points="884.0,207.1 890.8,201.6 895.2,207.5"/>
</g>
<g fill="#e6d81e"><circle cx="817.1" cy="267.6" r="0.8"/><circle cx="810.9" cy="272.2" r="0.6"/><circle cx="822.5" cy="274.3" r="0.6"/><circle cx="890.8" cy="201.7" r="0.8"/></g>
<g stroke="#66675f" stroke-width="1">
<line x1="896.4" y1="0" x2="896.4" y2="550"/>
<line x1="0" y1="531.5" x2="932" y2="531.5"/>
<line x1="896.4" y1="13.0" x2="899.0" y2="13.0"/>
<line x1="896.4" y1="40.3" x2="899.0" y2="40.3"/>
<line x1="896.4" y1="67.6" x2="899.0" y2="67.6"/>
<line x1="896.4" y1="94.9" x2="899.0" y2="94.9"/>
<line x1="896.4" y1="122.2" x2="899.0" y2="122.2"/>
<line x1="896.4" y1="149.4" x2="899.0" y2="149.4"/>
<line x1="896.4" y1="176.7" x2="899.0" y2="176.7"/>
<line x1="896.4" y1="204.0" x2="899.0" y2="204.0"/>
<line x1="896.4" y1="231.3" x2="899.0" y2="231.3"/>
<line x1="896.4" y1="258.6" x2="899.0" y2="258.6"/>
<line x1="896.4" y1="285.9" x2="899.0" y2="285.9"/>
<line x1="896.4" y1="313.2" x2="899.0" y2="313.2"/>
<line x1="896.4" y1="340.5" x2="899.0" y2="340.5"/>
<line x1="896.4" y1="367.8" x2="899.0" y2="367.8"/>
<line x1="896.4" y1="395.1" x2="899.0" y2="395.1"/>
<line x1="896.4" y1="422.3" x2="899.0" y2="422.3"/>
<line x1="896.4" y1="449.6" x2="899.0" y2="449.6"/>
<line x1="896.4" y1="476.9" x2="899.0" y2="476.9"/>
<line x1="896.4" y1="504.2" x2="899.0" y2="504.2"/>
<line x1="44.6" y1="531.5" x2="44.6" y2="533.8"/>
<line x1="99.3" y1="531.5" x2="99.3" y2="533.8"/>
<line x1="154.6" y1="531.5" x2="154.6" y2="533.8"/>
<line x1="228.0" y1="531.5" x2="228.0" y2="533.8"/>
<line x1="283.6" y1="531.5" x2="283.6" y2="533.8"/>
<line x1="339.4" y1="531.5" x2="339.4" y2="533.8"/>
<line x1="412.6" y1="531.5" x2="412.6" y2="533.8"/>
<line x1="467.5" y1="531.5" x2="467.5" y2="533.8"/>
<line x1="523.0" y1="531.5" x2="523.0" y2="533.8"/>
<line x1="596.8" y1="531.5" x2="596.8" y2="533.8"/>
<line x1="652.0" y1="531.5" x2="652.0" y2="533.8"/>
<line x1="704.6" y1="531.5" x2="704.6" y2="533.8"/>
<line x1="781.0" y1="531.5" x2="781.0" y2="533.8"/>
<line x1="836.7" y1="531.5" x2="836.7" y2="533.8"/>
<line x1="891.5" y1="531.5" x2="891.5" y2="533.8"/>
</g>
<g fill="#a9d5a6" stroke="#a9d5a6" stroke-width="0.2" font-size="8.7" font-weight="bold">
<text x="901.6" y="16.1" textLength="25.4" lengthAdjust="spacingAndGlyphs">109.900</text>
<text x="901.6" y="43.4" textLength="25.4" lengthAdjust="spacingAndGlyphs">109.800</text>
<text x="901.6" y="70.7" textLength="25.4" lengthAdjust="spacingAndGlyphs">109.700</text>
<text x="901.6" y="98.0" textLength="25.4" lengthAdjust="spacingAndGlyphs">109.600</text>
<text x="901.6" y="125.3" textLength="25.4" lengthAdjust="spacingAndGlyphs">109.500</text>
<text x="901.6" y="152.5" textLength="25.4" lengthAdjust="spacingAndGlyphs">109.400</text>
<text x="901.6" y="179.8" textLength="25.4" lengthAdjust="spacingAndGlyphs">109.300</text>
<text x="901.6" y="207.1" textLength="25.4" lengthAdjust="spacingAndGlyphs">109.200</text>
<text x="901.6" y="234.4" textLength="25.4" lengthAdjust="spacingAndGlyphs">109.100</text>
<text x="901.6" y="261.7" textLength="25.4" lengthAdjust="spacingAndGlyphs">109.000</text>
<text x="901.6" y="289.0" textLength="25.4" lengthAdjust="spacingAndGlyphs">108.900</text>
<text x="901.6" y="316.3" textLength="25.4" lengthAdjust="spacingAndGlyphs">108.800</text>
<text x="901.6" y="343.6" textLength="25.4" lengthAdjust="spacingAndGlyphs">108.700</text>
<text x="901.6" y="370.9" textLength="25.4" lengthAdjust="spacingAndGlyphs">108.600</text>
<text x="901.6" y="398.2" textLength="25.4" lengthAdjust="spacingAndGlyphs">108.500</text>
<text x="901.6" y="425.4" textLength="25.4" lengthAdjust="spacingAndGlyphs">108.400</text>
<text x="901.6" y="452.7" textLength="25.4" lengthAdjust="spacingAndGlyphs">108.300</text>
<text x="901.6" y="480.0" textLength="25.4" lengthAdjust="spacingAndGlyphs">108.200</text>
<text x="901.6" y="507.3" textLength="25.4" lengthAdjust="spacingAndGlyphs">108.100</text>
<text x="42.4" y="544.7" textLength="3.7" lengthAdjust="spacingAndGlyphs">6</text>
<text x="89.9" y="544.7" textLength="18.0" lengthAdjust="spacingAndGlyphs">12:00</text>
<text x="151.2" y="544.7" textLength="6.0" lengthAdjust="spacingAndGlyphs">11</text>
<text x="224.1" y="544.7" textLength="7.0" lengthAdjust="spacingAndGlyphs">13</text>
<text x="274.2" y="544.7" textLength="18.0" lengthAdjust="spacingAndGlyphs">12:00</text>
<text x="335.5" y="544.7" textLength="7.0" lengthAdjust="spacingAndGlyphs">18</text>
<text x="408.7" y="544.7" textLength="7.0" lengthAdjust="spacingAndGlyphs">20</text>
<text x="458.1" y="544.7" textLength="18.0" lengthAdjust="spacingAndGlyphs">12:00</text>
<text x="519.1" y="544.7" textLength="7.0" lengthAdjust="spacingAndGlyphs">25</text>
<text x="592.9" y="544.7" textLength="7.0" lengthAdjust="spacingAndGlyphs">27</text>
<text x="642.6" y="544.7" textLength="18.0" lengthAdjust="spacingAndGlyphs">12:00</text>
<text x="697.6" y="544.7" textLength="13.3" lengthAdjust="spacingAndGlyphs">Dec</text>
<text x="778.8" y="544.7" textLength="3.7" lengthAdjust="spacingAndGlyphs">4</text>
<text x="827.3" y="544.7" textLength="18.0" lengthAdjust="spacingAndGlyphs">12:00</text>
<text x="889.2" y="544.7" textLength="3.7" lengthAdjust="spacingAndGlyphs">9</text>
<text x="4.7" y="13.8" textLength="133.9" lengthAdjust="spacingAndGlyphs">U.S. Dollar / Japanese Yen, 120, FXCM</text>
</g>
<rect x="895.8" y="340.9" width="36.2" height="11.9" fill="#26a69a"/>
<rect x="907" y="353.9" width="25" height="11.8" fill="#26a69a"/>
<line x1="896.4" y1="347.3" x2="899.0" y2="347.3" stroke="#d6cfa0" stroke-width="1" opacity="0.7"/>
<g fill="#d8cf9f" stroke="#d8cf9f" stroke-width="0.15" font-size="8.7" font-weight="bold">
<text x="901.8" y="349.8" textLength="24.9" lengthAdjust="spacingAndGlyphs">108.676</text>
<text x="909.1" y="363.0" textLength="17.6" lengthAdjust="spacingAndGlyphs">36:25</text>
</g>
</svg>
</body></html>
